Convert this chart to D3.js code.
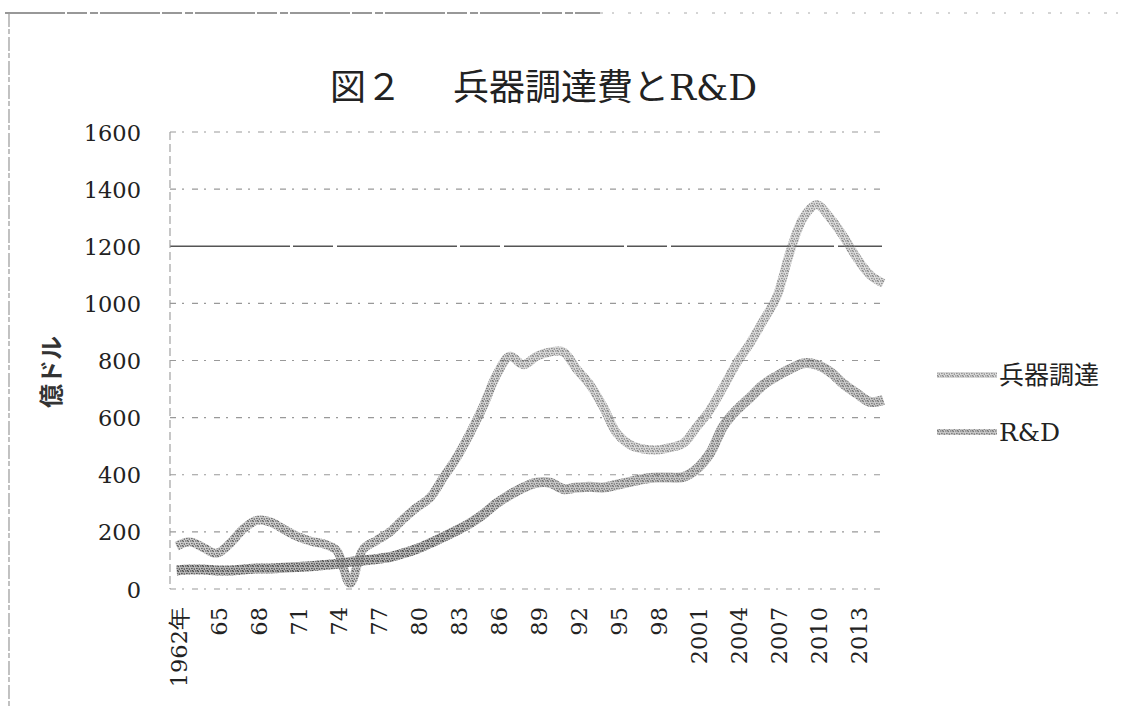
<!DOCTYPE html>
<html><head><meta charset="utf-8">
<script src="https://cdn.jsdelivr.net/npm/d3@7"></script>
<style>
body{margin:0;background:#fff;}
svg{display:block;}
</style></head><body>
<svg id="chart" width="1132" height="707"></svg>
<script>
// ---- data ----
const years = [1962,1963,1964,1965,1966,1967,1968,1969,1970,1971,1972,1973,1974,1975,1976,1977,1978,1979,
  1980,1981,1982,1983,1984,1985,1986,1987,1988,1989,1990,1991,1992,1993,1994,1995,1996,1997,1998,1999,
  2000,2001,2002,2003,2004,2005,2006,2007,2008,2009,2010,2011,2012,2013,2014,2015];
const procurement = [150,165,145,125,160,210,240,235,210,185,168,158,135,20,140,170,200,245,
  285,320,390,460,545,640,750,815,785,815,830,830,770,715,637,546,505,490,487,495,
  510,567,627,707,791,860,940,1022,1180,1300,1345,1300,1235,1160,1100,1070];
const rnd = [65,68,68,65,65,68,72,72,74,77,80,84,88,95,100,105,112,125,
  140,160,182,205,230,262,300,330,355,372,372,350,355,358,355,365,375,385,390,390,
  392,420,475,570,627,670,715,745,770,790,785,760,718,685,655,662];
const tickYears = [1962,1965,1968,1971,1974,1977,1980,1983,1986,1989,1992,1995,1998,2001,2004,2007,2010,2013];
const tickLabels = ["1962年","65","68","71","74","77","80","83","86","89","92","95","98","2001","2004","2007","2010","2013"];
const yTicks = [0,200,400,600,800,1000,1200,1400,1600];
const seriesNames = ["兵器調達","R&D"];
const titleMain = "図２";
const titleRest = "兵器調達費と";
const titleTail = "R&D";
const yTitle = "億ドル";

// ---- layout ----
const svg = d3.select("#chart");
const pL = 170, pR = 890, pT = 132, pB = 589;
const x = d3.scaleBand().domain(years).range([pL, pR]);
const y = d3.scaleLinear().domain([0, 1600]).range([pB, pT]);
const cx = d => x(d) + x.bandwidth() / 2;
const serif = "'DejaVu Serif','Liberation Serif',serif";
const jp = "'Noto Sans CJK JP','Noto Sans',sans-serif";

const defs = svg.append("defs");
function stipple(id, bg, bgOp, dot) {
  const p = defs.append("pattern").attr("id", id).attr("patternUnits", "userSpaceOnUse")
    .attr("width", 5).attr("height", 5);
  p.append("rect").attr("width", 5).attr("height", 5).attr("fill", bg).attr("fill-opacity", bgOp);
  [[0.8,0.9],[3.2,1.6],[1.9,3.4],[4.3,4.1],[2.6,0.3]].forEach(([a,b]) =>
    p.append("circle").attr("cx", a).attr("cy", b).attr("r", 0.75).attr("fill", dot));
}
stipple("stipA", "#a0a0a0", 0.5, "#555");
stipple("stipB", "#8c8c8c", 0.6, "#3a3a3a");

// fade toward the right (scan is lighter there)
const grad = defs.append("linearGradient").attr("id", "fadeG").attr("gradientUnits", "userSpaceOnUse")
  .attr("x1", pL).attr("x2", pR).attr("y1", 0).attr("y2", 0);
grad.append("stop").attr("offset", "0").attr("stop-color", "#fff");
grad.append("stop").attr("offset", "0.38").attr("stop-color", "#fff");
grad.append("stop").attr("offset", "0.5").attr("stop-color", "#c8c8c8");
grad.append("stop").attr("offset", "1").attr("stop-color", "#c0c0c0");
defs.append("mask").attr("id", "fadeM").attr("maskUnits", "userSpaceOnUse")
  .attr("x", 0).attr("y", 0).attr("width", 1132).attr("height", 707)
  .append("rect").attr("x", 0).attr("y", 0).attr("width", 1132).attr("height", 707).attr("fill", "url(#fadeG)");

// page frame (scan border)
svg.append("line").attr("x1", 5).attr("x2", 600).attr("y1", 13).attr("y2", 13)
  .attr("stroke", "#777").attr("stroke-width", 1.4).attr("stroke-dasharray", "60,2,20,3,8,2");
svg.append("line").attr("x1", 600).attr("x2", 1132).attr("y1", 13).attr("y2", 13)
  .attr("stroke", "#aaa").attr("stroke-width", 1).attr("stroke-dasharray", "3,9,2,14");
svg.append("line").attr("x1", 9).attr("x2", 9).attr("y1", 13).attr("y2", 707)
  .attr("stroke", "#999").attr("stroke-width", 1.2).attr("stroke-dasharray", "14,2,5,3");

// title
const t = svg.append("text").attr("y", 100).attr("fill", "#222").attr("font-size", 36);
t.append("tspan").attr("x", 330).attr("font-family", jp).text(titleMain);
t.append("tspan").attr("x", 453).attr("font-family", jp).text(titleRest);
t.append("tspan").attr("font-family", serif).text(titleTail);

// grid
const grid = svg.append("g");
yTicks.forEach(v => {
  grid.append("line").attr("x1", pL).attr("x2", pR - 8).attr("y1", y(v)).attr("y2", y(v))
    .attr("stroke", v === 1200 ? "#555" : "#999")
    .attr("stroke-width", v === 1200 ? 1.6 : 1.1)
    .attr("stroke-dasharray", v === 1200 ? "120,3,40,4" : "6,6,2,8");
});
grid.append("line").attr("x1", pL).attr("x2", pL).attr("y1", pT).attr("y2", pB)
  .attr("stroke", "#999").attr("stroke-width", 1.1).attr("stroke-dasharray", "8,4");

// y axis labels
const yAxis = svg.append("g").attr("transform", `translate(${pL - 26},0)`)
  .call(d3.axisLeft(y).tickValues(yTicks).tickSize(0).tickFormat(d3.format("d")));
yAxis.select(".domain").remove();
yAxis.selectAll("text").attr("font-family", serif).attr("font-size", 22.5).attr("fill", "#222").attr("dy", "0.36em");

// x axis labels
const xAxis = svg.append("g").attr("transform", `translate(0,${pB})`)
  .call(d3.axisBottom(x).tickValues(tickYears).tickSize(0)
    .tickFormat(d => tickLabels[tickYears.indexOf(d)]));
xAxis.select(".domain").remove();
xAxis.selectAll("text")
  .attr("font-family", serif)
  .attr("font-size", 22.5).attr("fill", "#222")
  .attr("transform", "rotate(-90)")
  .attr("text-anchor", "end")
  .attr("x", -18).attr("y", 2).attr("dy", "0.36em");

// y title
svg.append("text").attr("transform", "translate(52,372) rotate(-90)")
  .attr("text-anchor", "middle").attr("dy", "0.35em")
  .attr("font-family", jp).attr("font-weight", 700).attr("font-size", 24).attr("fill", "#333")
  .text(yTitle);

// lines
const line = d3.line().x((d, i) => cx(years[i])).y(d => y(d)).curve(d3.curveCatmullRom.alpha(0.5));
const lines = svg.append("g").attr("mask", "url(#fadeM)");
lines.append("path").datum(rnd).attr("d", line).attr("fill", "none")
  .attr("stroke", "url(#stipB)").attr("stroke-width", 10).attr("stroke-linejoin", "round");
lines.append("path").datum(procurement).attr("d", line).attr("fill", "none")
  .attr("stroke", "url(#stipA)").attr("stroke-width", 9).attr("stroke-linejoin", "round");

// legend
const lg = svg.append("g");
[["stipA", 375, seriesNames[0], jp], ["stipB", 432, seriesNames[1], serif]].forEach(([pid, ly, name, ff]) => {
  lg.append("line").attr("x1", 937).attr("x2", 997).attr("y1", ly).attr("y2", ly)
    .attr("stroke", `url(#${pid})`).attr("stroke-width", 6).attr("opacity", 0.75);
  lg.append("text").attr("x", 999).attr("y", ly).attr("dy", "0.35em")
    .attr("font-family", ff).attr("font-size", 25).attr("fill", "#222").text(name);
});
</script>
</body></html>
